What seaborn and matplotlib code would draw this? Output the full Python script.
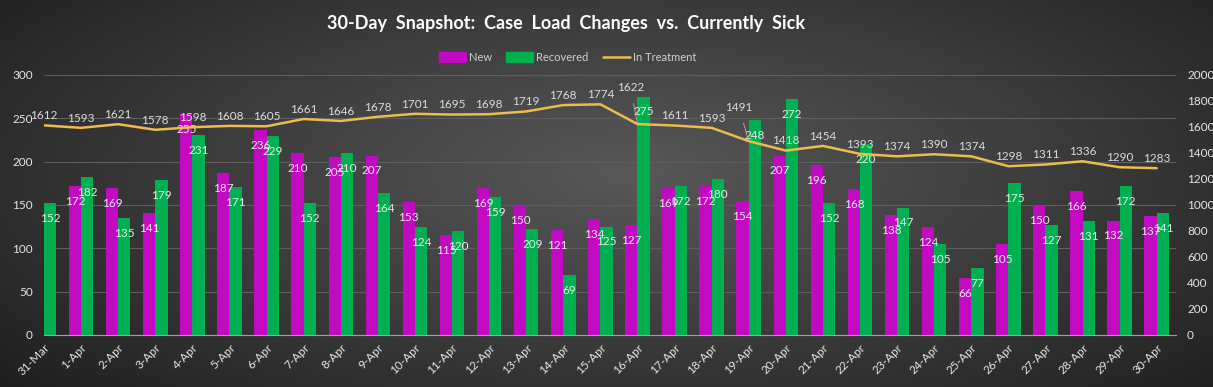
"""30-day snapshot: new vs recovered bars with in-treatment line on a second axis."""
import numpy as np
import pandas as pd
import matplotlib
matplotlib.use('Agg')
import matplotlib.pyplot as plt
import seaborn as sns

dates = ['31-Mar'] + [f'{d}-Apr' for d in range(1, 31)]
new_cases = [np.nan, 172, 169, 141, 255, 187, 236, 210, 205, 207, 153, 115, 169, 150, 121,
             134, 127, 169, 172, 154, 207, 196, 168, 138, 124, 66, 105, 150, 166, 132, 137]
recovered = [152, 182, 135, 179, 231, 171, 229, 152, 210, 164, 124, 120, 159, 122, 69,
             125, 275, 172, 180, 248, 272, 152, 220, 147, 105, 77, 175, 127, 131, 172, 141]
in_treatment = [1612, 1593, 1621, 1578, 1598, 1608, 1605, 1661, 1646, 1678, 1701, 1695, 1698,
                1719, 1768, 1774, 1622, 1611, 1593, 1491, 1418, 1454, 1393, 1374, 1390, 1374,
                1298, 1311, 1336, 1290, 1283]
# the source chart shows a label that does not match its bar on 13-Apr
recovered_label_fix = {'13-Apr': '209'}

MAGENTA = '#c30ac3'
GREEN = '#00b050'
GOLD = '#ebbd4e'
TXT = '#e6e6e6'
FONT = ['Lato', 'DejaVu Sans']
BAR_W = 0.66

sns.set_style('dark')
plt.rcParams['font.family'] = FONT

long = pd.DataFrame({'date': dates * 2,
                     'series': ['New'] * len(dates) + ['Recovered'] * len(dates),
                     'value': new_cases + recovered})

fig = plt.figure(figsize=(12.13, 3.87), dpi=100)

# radial-ish dark background
bg = fig.add_axes([0, 0, 1, 1], zorder=-10)
yy, xx = np.mgrid[0:1:200j, 0:1:600j]
r = np.sqrt(((xx - 0.52) / 0.75) ** 2 + ((yy - 0.45) / 0.9) ** 2)
bg.imshow(np.clip(r, 0, 1), cmap=matplotlib.colors.LinearSegmentedColormap.from_list(
    'bg', ['#585858', '#3c3c3c', '#1f1f1f']), aspect='auto', extent=[0, 1, 0, 1])
bg.axis('off')

ax = fig.add_axes([0.0363, 0.1344, 0.9332, 0.672])
ax.patch.set_alpha(0)
sns.barplot(data=long, x='date', y='value', hue='series', palette=[MAGENTA, GREEN],
            width=BAR_W, saturation=1, ax=ax, legend=False, edgecolor='none', linewidth=0)
ax.set_xlim(0, 30.52)
ax.set_ylim(0, 300)
ax.set_yticks(range(0, 301, 50))
ax.grid(axis='y', color='#5e5e5e', lw=0.8)
ax.set_axisbelow(True)
for s in ['top', 'right', 'left']:
    ax.spines[s].set_visible(False)
ax.spines['bottom'].set_color('#a0a0a0')
ax.tick_params(axis='x', colors='#a0a0a0', length=4, labelcolor=TXT, labelsize=8.5, pad=1)
ax.tick_params(axis='y', length=0, labelcolor=TXT, labelsize=8.5, pad=8)
plt.setp(ax.get_xticklabels(), rotation=45, ha='right', rotation_mode='anchor')
ax.set_xlabel('')
ax.set_ylabel('')

# bar value labels, just inside the top of each bar
half = BAR_W / 4
for i, d in enumerate(dates):
    if not np.isnan(new_cases[i]):
        ax.annotate(str(int(new_cases[i])), (i - half, new_cases[i]), xytext=(0, -11),
                    textcoords='offset points', ha='center', va='center',
                    color='#f2e2f2', fontsize=8.5)
    ax.annotate(recovered_label_fix.get(d, str(recovered[i])), (i + half, recovered[i]),
                xytext=(0, -11), textcoords='offset points', ha='center', va='center',
                color='#e2f2e6', fontsize=8.5)

ax2 = ax.twinx()
sns.lineplot(x=np.arange(len(dates)), y=in_treatment, color=GOLD, lw=1.8, ax=ax2)
ax2.set_ylim(0, 2000)
ax2.set_yticks(range(0, 2001, 200))
ax2.grid(False)
ax2.patch.set_alpha(0)
for s in ax2.spines.values():
    s.set_visible(False)
ax2.tick_params(axis='y', length=0, labelcolor=TXT, labelsize=8.5, pad=8)

# labels moved off the line in the source, with leader lines
moved = {'16-Apr': (-5, 26), '19-Apr': (-7, 24)}
for i, (d, v) in enumerate(zip(dates, in_treatment)):
    if d in moved:
        ax2.annotate(str(v), (i, v), xytext=moved[d], textcoords='offset points',
                     ha='center', va='center', color='#dcdcdc', fontsize=8.5,
                     arrowprops=dict(arrowstyle='-', color='#b0b0b0', lw=0.6, shrinkA=5, shrinkB=0))
    else:
        ax2.annotate(str(v), (i, v), xytext=(0, 7), textcoords='offset points',
                     ha='center', va='center', color='#dcdcdc', fontsize=8.5)

fig.text(0.467, 0.94, '30-Day  Snapshot:  Case  Load  Changes  vs.  Currently  Sick',
         ha='center', va='center', color='white', fontsize=13, fontweight='bold')

handles = [plt.Rectangle((0, 0), 1, 1, color=MAGENTA), plt.Rectangle((0, 0), 1, 1, color=GREEN),
           plt.Line2D([], [], color=GOLD, lw=1.8)]
fig.legend(handles, ['New', 'Recovered', 'In Treatment'], loc='center', bbox_to_anchor=(0.468, 0.852),
           ncol=3, frameon=False, fontsize=8, labelcolor='#d0d0d0', handlelength=2.4,
           handleheight=0.9, columnspacing=1.3, handletextpad=0.3)

fig.savefig('out.png', dpi=100)
